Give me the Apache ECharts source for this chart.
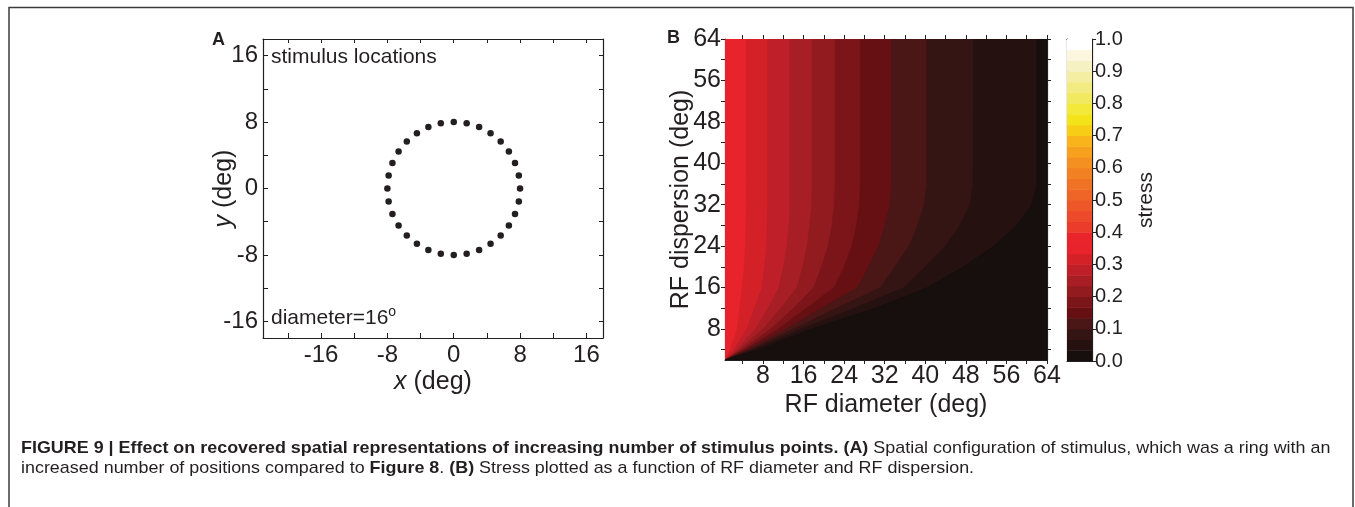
<!DOCTYPE html>
<html>
<head>
<meta charset="utf-8">
<script src="https://cdn.jsdelivr.net/npm/echarts@6/dist/echarts.min.js"></script>
<style>
html,body{margin:0;padding:0;background:#fff;}
#c{width:1355px;height:507px;}
</style>
</head>
<body>
<div id="c"></div>
<script>
// ---------- Panel A: stimulus locations (deg) ----------
const ringX = [0,1.56,3.06,4.44,5.66,6.65,7.39,7.85,8,7.85,7.39,6.65,5.66,4.44,3.06,1.56,0,-1.56,-3.06,-4.44,-5.66,-6.65,-7.39,-7.85,-8,-7.85,-7.39,-6.65,-5.66,-4.44,-3.06,-1.56];
const ringY = [8,7.85,7.39,6.65,5.66,4.44,3.06,1.56,0,-1.56,-3.06,-4.44,-5.66,-6.65,-7.39,-7.85,-8,-7.85,-7.39,-6.65,-5.66,-4.44,-3.06,-1.56,0,1.56,3.06,4.44,5.66,6.65,7.39,7.85];
const aTicks = [-20,-16,-12,-8,-4,0,4,8,12,16];
const aYTicks = [-16,-12,-8,-4,0,4,8,12,16];
const aLabels = [-16,-8,0,8,16];

// ---------- Panel B: stress contour bands ----------
// RF dispersion rows (y) where each band edge's RF diameter (x) was read
const rowY = [2,4,8,12,16,20,24,28,32,36,64];
// contour edges: x position at each rowY (edge j separates band j-1 (left) from band j (right))
const edge1  = [0.5,1.5,2.9,3.4,3.9,4.3,4.5,4.6,4.7,4.7,4.7];
const edge2  = [0.5,2.2,4.8,6.3,7.8,8.3,8.7,8.8,8.9,8.9,8.9];
const edge3  = [0.5,2.8,6.5,9.0,11.1,12.0,12.7,13.1,13.3,13.3,13.3];
const edge4  = [0.5,3.3,8.0,11.5,14.7,15.8,16.7,17.2,17.6,17.7,17.7];
const edge5  = [0.5,3.8,9.5,14.0,18.0,19.5,20.8,21.6,22.0,22.2,22.2];
const edge6  = [0.5,4.3,11.0,16.5,22.0,24.0,25.5,26.4,27.0,27.2,27.2];
const edge7  = [0.5,4.8,12.5,19.5,26.6,28.8,30.8,32.0,33.0,33.3,33.3];
const edge8  = [0.5,5.4,14.0,22.5,31.2,34.0,36.8,38.5,39.8,40.3,40.3];
const edge9  = [0.5,6.0,15.5,26.0,35.8,40.0,44.0,46.8,48.8,49.4,49.5];
const edge10 = [0.5,7.0,17.5,30.0,40.4,47.5,53.5,58.0,61.0,62.0,62.0];
const bandEdges = [null, edge1, edge2, edge3, edge4, edge5, edge6, edge7, edge8, edge9, edge10];
// stress level index (of the 30-step colour scale) of each band, left to right
const bandLevel = [10,9,8,7,6,5,4,3,2,1,0];
const bTicks = [4,8,12,16,20,24,28,32,36,40,44,48,52,56,60,64];
const bLabels = [8,16,24,32,40,48,56,64];

// ---------- Colour bar ----------
const nLevels = 30;
const levelColors = ['#170e0e','#261111','#351414','#4a1616','#661014','#7c151a','#921b1f','#a81e25','#bf1f29','#d42128',
  '#e8232b','#e9252b','#eb3c2b','#ec4a2a','#ee5829','#ef6527','#f07325','#f28123','#f48f21','#f6a01e',
  '#f8b41a','#f8cd15','#f3e31a','#f2e93a','#f1e960','#f2eb82','#f4eea3','#f6f1c2','#faf7de','#ffffff'];
const cbTicks = [0,0.1,0.2,0.3,0.4,0.5,0.6,0.7,0.8,0.9,1.0];

const ink = '#231f20';
const F = 'Liberation Sans, Arial, sans-serif';

const chart = echarts.init(document.getElementById('c'), null, {renderer:'canvas'});

function frameAxis(gridIndex, pos, min, max, ticks, inside) {
  return {
    type:'value', gridIndex, position:pos, min, max,
    axisLine:{show:true, onZero:false, lineStyle:{color:ink, width:1.2}},
    axisTick:{show:true, inside, length:4, customValues:ticks, lineStyle:{color:ink, width:1}},
    axisLabel:{show:false}, splitLine:{show:false}
  };
}

const option = {
  backgroundColor:'#fff',
  animation:false,
  grid:[
    {left:263, top:39, width:340, height:299},
    {left:725, top:39, width:322, height:321},
    {left:1067, top:39, width:25, height:322}
  ],
  xAxis:[
    { type:'value', gridIndex:0, position:'bottom', min:-23, max:18,
      axisLine:{show:true, onZero:false, lineStyle:{color:ink, width:1.2}},
      axisTick:{show:true, inside:true, length:5, customValues:aTicks, lineStyle:{color:ink}},
      axisLabel:{show:true, customValues:aLabels, color:ink, fontSize:24, fontFamily:F, margin:5},
      splitLine:{show:false},
      name:'{i|x} (deg)', nameLocation:'middle', nameGap:32, nameMoveOverlap:false,
      nameTextStyle:{color:ink, fontSize:25, fontFamily:F, rich:{i:{fontStyle:'italic', fontSize:25, fontFamily:F, color:ink}}}
    },
    frameAxis(0,'top',-23,18,aTicks,true),
    { type:'value', gridIndex:1, position:'bottom', min:0.5, max:64,
      axisLine:{show:true, onZero:false, lineStyle:{color:ink, width:1.2}},
      axisTick:{show:true, inside:false, length:4, customValues:bTicks, lineStyle:{color:ink}},
      axisLabel:{show:true, customValues:bLabels, color:ink, fontSize:25, fontFamily:F, margin:4},
      splitLine:{show:false},
      name:'RF diameter (deg)', nameLocation:'middle', nameGap:33, nameMoveOverlap:false,
      nameTextStyle:{color:ink, fontSize:25, fontFamily:F}
    },
    frameAxis(1,'top',0.5,64,bTicks,false),
    { type:'value', gridIndex:2, position:'bottom', min:0, max:1,
      axisLine:{show:true, onZero:false, lineStyle:{color:ink, width:1.2}},
      axisTick:{show:false}, axisLabel:{show:false}, splitLine:{show:false}},
    { type:'value', gridIndex:2, position:'top', min:0, max:1,
      axisLine:{show:true, onZero:false, lineStyle:{color:ink, width:1.2}},
      axisTick:{show:false}, axisLabel:{show:false}, splitLine:{show:false}}
  ],
  yAxis:[
    { type:'value', gridIndex:0, position:'left', min:-18, max:18,
      axisLine:{show:true, onZero:false, lineStyle:{color:ink, width:1.2}},
      axisTick:{show:true, inside:true, length:5, customValues:aYTicks, lineStyle:{color:ink}},
      axisLabel:{show:true, customValues:aLabels, color:ink, fontSize:24, fontFamily:F, margin:5},
      splitLine:{show:false},
      name:'{i|y} (deg)', nameLocation:'middle', nameGap:26, nameRotate:90, nameMoveOverlap:false,
      nameTextStyle:{color:ink, fontSize:25, fontFamily:F, rich:{i:{fontStyle:'italic', fontSize:25, fontFamily:F, color:ink}}}
    },
    frameAxis(0,'right',-18,18,aYTicks,true),
    { type:'value', gridIndex:1, position:'left', min:2, max:64,
      axisLine:{show:true, onZero:false, lineStyle:{color:ink, width:1.2}},
      axisTick:{show:true, inside:false, length:4, customValues:bTicks, lineStyle:{color:ink}},
      axisLabel:{show:true, customValues:bLabels, color:ink, fontSize:25, fontFamily:F, margin:4},
      splitLine:{show:false},
      name:'RF dispersion (deg)', nameLocation:'middle', nameGap:31, nameRotate:90, nameMoveOverlap:false,
      nameTextStyle:{color:ink, fontSize:25, fontFamily:F}
    },
    frameAxis(1,'right',2,64,bTicks,false),
    { type:'value', gridIndex:2, position:'right', min:0, max:1,
      axisLine:{show:true, onZero:false, lineStyle:{color:ink, width:1.2}},
      axisTick:{show:true, inside:false, length:4, customValues:cbTicks, lineStyle:{color:ink}},
      axisLabel:{show:true, customValues:cbTicks, color:ink, fontSize:20, fontFamily:F, margin:3,
        formatter:(v)=>v.toFixed(1)},
      splitLine:{show:false},
      name:'stress', nameLocation:'middle', nameGap:44, nameRotate:90, nameMoveOverlap:false,
      nameTextStyle:{color:ink, fontSize:21, fontFamily:F}
    },
    { type:'value', gridIndex:2, position:'left', min:0, max:1,
      axisLine:{show:true, onZero:false, lineStyle:{color:ink, width:1.2}},
      axisTick:{show:false}, axisLabel:{show:false}, splitLine:{show:false}}
  ],
  series:[
    { type:'scatter', xAxisIndex:0, yAxisIndex:0, symbol:'circle', symbolSize:6.5,
      itemStyle:{color:ink, opacity:1}, data: ringX.map((x,i)=>[x, ringY[i]]) },
    { type:'custom', xAxisIndex:2, yAxisIndex:2, clip:true,
      data: bandLevel.map((lv,i)=>[i, lv]),
      renderItem:(params, api)=>{
        const i = api.value(0);
        const lv = api.value(1);
        let pts;
        if (i === 0) {
          pts = [api.coord([0.5,2]), api.coord([0.5,64]), api.coord([64,64]), api.coord([64,2])];
        } else {
          const e = bandEdges[i];
          pts = [api.coord([64,2])];
          for (let k=0;k<rowY.length;k++) pts.push(api.coord([e[k], rowY[k]]));
          pts.push(api.coord([64,64]));
        }
        return {type:'polygon', shape:{points:pts}, style:{fill:levelColors[lv], stroke:levelColors[lv], lineWidth:0.5}};
      }
    },
    { type:'custom', xAxisIndex:4, yAxisIndex:4, clip:true,
      data: levelColors.map((c,i)=>[i]),
      renderItem:(params, api)=>{
        const i = api.value(0);
        const p0 = api.coord([0, i/nLevels]);
        const p1 = api.coord([1, (i+1)/nLevels]);
        return {type:'rect', shape:{x:p0[0], y:p1[1], width:p1[0]-p0[0], height:p0[1]-p1[1]+0.5},
          style:{fill:levelColors[i]}};
      }
    }
  ],
  graphic:[
    {type:'polyline', shape:{points:[[9,507],[9,7.5],[1353,7.5],[1353,507]]}, style:{stroke:'#3c3c3c', lineWidth:1.5, fill:null}},
    {type:'text', left:212, top:31, style:{text:'A', fontSize:18, fontWeight:'bold', fontFamily:F, fill:ink}},
    {type:'text', left:667, top:29, style:{text:'B', fontSize:18, fontWeight:'bold', fontFamily:F, fill:ink}},
    {type:'text', left:271, top:47, style:{text:'stimulus locations', fontSize:21, fontFamily:F, fill:ink}},
    {type:'text', left:271, top:305, style:{text:'diameter=16{s|o}', fontSize:21, fontFamily:F, fill:ink,
      rich:{s:{fontSize:14, fontFamily:F, fill:ink, verticalAlign:'top', padding:[0,0,12,0]}}}},
    {type:'text', x:21, y:440, scaleX:1.054, style:{
      text:'{b|FIGURE 9 | Effect on recovered spatial representations of increasing number of stimulus points. (A)} Spatial configuration of stimulus, which was a ring with an',
      fontSize:17, fontFamily:F, fill:'#231f20',
      rich:{b:{fontWeight:'bold', fontSize:17, fontFamily:F, fill:'#231f20'}}}},
    {type:'text', x:21, y:460, scaleX:1.054, style:{
      text:'increased number of positions compared to {b|Figure 8}. {b|(B)} Stress plotted as a function of RF diameter and RF dispersion.',
      fontSize:17, fontFamily:F, fill:'#231f20',
      rich:{b:{fontWeight:'bold', fontSize:17, fontFamily:F, fill:'#231f20'}}}}
  ]
};
chart.setOption(option);
</script>
</body>
</html>
